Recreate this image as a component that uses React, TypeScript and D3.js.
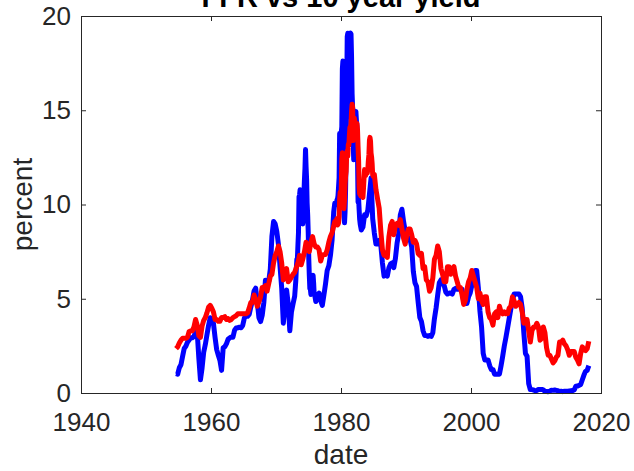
import React, { useEffect, useRef } from "react";
import * as d3 from "d3";

// Effective federal funds rate (percent)
// quarterly, 1954 Q3 .. 1972 Q4
const ffr1954 = [
  1.03, 1.0,
  1.34, 1.5, 1.94, 2.36,
  2.48, 2.69, 2.81, 2.93,
  2.93, 3.0, 3.23, 3.25,
  1.86, 0.7, 1.32, 2.16,
  2.57, 3.08, 3.58, 3.99,
  3.93, 3.7, 2.94, 2.3,
  2.0, 1.73, 1.2, 2.4,
  2.46, 2.61, 2.85, 2.92,
  2.97, 2.96, 3.33, 3.45,
  3.46, 3.49, 3.46, 3.58,
  3.97, 4.08, 4.07, 4.17,
  4.56, 4.91, 5.41, 5.56,
  4.82, 3.99, 3.79, 4.12,
  4.79, 5.98, 5.94, 5.92,
  6.57, 8.33, 9.1, 8.97,
  8.57, 7.88, 6.7, 5.57,
  3.7, 4.56, 5.47, 4.75,
  3.3, 4.3, 4.74, 5.14,
];
// monthly, 1973 .. 1975
const ffr1973 = [
  5.94, 6.58, 7.09, 7.12, 7.84, 8.49, 10.4, 10.5, 10.78, 10.01, 10.03, 9.95,
  9.65, 8.97, 9.35, 10.51, 11.31, 11.93, 12.92, 12.01, 11.34, 10.06, 9.45, 8.53,
  7.13, 6.24, 5.54, 5.49, 5.22, 5.55, 6.1, 6.14, 6.24, 5.82, 5.22, 5.2,
];
// quarterly, 1976 .. 1978
const ffr1976 = [
  4.85, 5.2, 5.3, 4.9,
  4.65, 5.2, 5.8, 6.5,
  6.75, 7.3, 8.1, 9.6,
];
// monthly, 1979 .. 1982
const ffr1979 = [
  10.07, 10.06, 10.09, 10.01, 10.24, 10.29, 10.47, 10.94, 11.43, 13.77, 13.18, 13.78,
  13.82, 14.13, 17.19, 17.61, 10.98, 9.47, 9.03, 9.61, 10.87, 12.81, 15.85, 18.9,
  19.08, 15.93, 14.7, 15.72, 18.52, 19.1, 19.04, 17.82, 15.87, 15.08, 13.31, 12.37,
  13.22, 14.78, 14.68, 14.94, 14.45, 14.15, 12.59, 10.12, 10.31, 9.71, 9.2, 8.95,
];
// quarterly, 1983 .. 2018 Q1
const ffr1983 = [
  8.65, 8.8, 9.45, 9.4,
  9.7, 10.55, 11.4, 9.25,
  8.5, 7.9, 7.9, 8.1,
  7.85, 6.9, 6.2, 6.3,
  6.2, 6.65, 6.85, 6.9,
  6.65, 7.15, 7.95, 8.45,
  9.45, 9.75, 9.1, 8.6,
  8.25, 8.25, 8.15, 7.75,
  6.45, 5.85, 5.65, 4.8,
  4.0, 3.8, 3.3, 3.05,
  3.05, 3.0, 3.05, 3.0,
  3.2, 3.95, 4.5, 5.2,
  5.85, 6.0, 5.8, 5.7,
  5.35, 5.25, 5.3, 5.3,
  5.25, 5.5, 5.55, 5.5,
  5.5, 5.5, 5.5, 4.85,
  4.75, 4.75, 5.1, 5.3,
  5.7, 6.3, 6.5, 6.5,
  5.6, 4.35, 3.5, 2.1,
  1.75, 1.75, 1.75, 1.45,
  1.25, 1.25, 1.0, 1.0,
  1.0, 1.0, 1.45, 1.95,
  2.5, 2.95, 3.45, 3.95,
  4.45, 4.9, 5.25, 5.25,
  5.25, 5.25, 5.1, 4.5,
  3.2, 2.1, 1.95, 0.5,
  0.18, 0.18, 0.16, 0.12,
  0.13, 0.19, 0.19, 0.19,
  0.16, 0.09, 0.08, 0.07,
  0.1, 0.15, 0.14, 0.16,
  0.14, 0.12, 0.08, 0.09,
  0.07, 0.09, 0.09, 0.1,
  0.11, 0.12, 0.13, 0.16,
  0.36, 0.37, 0.4, 0.45,
  0.7, 0.95, 1.15, 1.2,
  1.45,
];

// 10 year treasury yield (percent)
// quarterly, 1954 Q3 .. 1978 Q4
const gs1954 = [
  2.35, 2.45,
  2.65, 2.8, 2.9, 2.9,
  2.9, 2.95, 3.25, 3.3,
  3.3, 3.5, 3.9, 3.6,
  3.05, 2.95, 3.55, 3.85,
  4.0, 4.25, 4.55, 4.65,
  4.5, 4.3, 3.9, 3.9,
  3.8, 3.8, 4.0, 4.0,
  4.05, 3.9, 3.95, 3.85,
  3.9, 4.0, 4.05, 4.1,
  4.2, 4.2, 4.2, 4.2,
  4.2, 4.2, 4.25, 4.5,
  4.8, 4.8, 5.2, 4.95,
  4.6, 4.85, 5.1, 5.6,
  5.6, 5.7, 5.4, 5.8,
  6.2, 6.3, 6.9, 7.3,
  7.5, 7.8, 7.5, 6.9,
  6.0, 6.3, 6.6, 5.9,
  6.0, 6.15, 6.3, 6.4,
  6.65, 6.9, 7.3, 6.8,
  7.1, 7.5, 8.0, 7.6,
  7.5, 8.0, 8.3, 7.9,
  7.75, 7.75, 7.6, 7.0,
  7.3, 7.35, 7.35, 7.6,
  8.0, 8.3, 8.5, 8.85,
];
// monthly, 1979 .. 1984
const gs1979 = [
  9.1, 9.1, 9.12, 9.18, 9.25, 8.91, 8.95, 9.03, 9.33, 10.3, 10.65, 10.39,
  10.8, 12.41, 12.75, 11.47, 10.18, 9.78, 10.25, 11.1, 11.51, 11.75, 12.68, 12.84,
  12.57, 13.19, 13.12, 13.68, 14.1, 13.47, 14.28, 14.94, 15.32, 15.15, 13.39, 13.72,
  14.59, 14.43, 13.86, 13.87, 13.62, 14.3, 13.95, 13.06, 12.34, 10.91, 10.55, 10.54,
  10.46, 10.72, 10.51, 10.4, 10.38, 10.85, 11.38, 11.85, 11.65, 11.54, 11.69, 11.83,
  11.67, 11.84, 12.32, 12.63, 13.41, 13.56, 13.36, 12.72, 12.52, 12.16, 11.57, 11.5,
];
// quarterly, 1985 .. 2018 Q1
const gs1985 = [
  11.6, 10.8, 10.3, 9.8,
  8.6, 7.6, 7.3, 7.3,
  7.2, 8.3, 8.9, 9.1,
  8.4, 8.9, 9.0, 8.9,
  9.2, 8.7, 8.2, 7.9,
  8.4, 8.7, 8.7, 8.4,
  8.0, 8.1, 7.9, 7.4,
  7.3, 7.4, 6.6, 6.7,
  6.0, 5.9, 5.4, 5.6,
  6.1, 7.1, 7.3, 7.8,
  7.5, 6.6, 6.3, 5.9,
  5.9, 6.7, 6.7, 6.3,
  6.6, 6.7, 6.2, 5.9,
  5.6, 5.6, 5.2, 4.7,
  4.9, 5.5, 5.9, 6.1,
  6.5, 6.2, 5.9, 5.6,
  5.0, 5.3, 4.9, 4.7,
  5.1, 5.1, 4.3, 4.0,
  3.9, 3.6, 4.2, 4.3,
  4.0, 4.6, 4.3, 4.2,
  4.3, 4.2, 4.2, 4.5,
  4.6, 5.1, 4.9, 4.6,
  4.7, 4.8, 4.7, 4.3,
  3.7, 3.9, 3.9, 3.3,
  2.7, 3.3, 3.5, 3.5,
  3.7, 3.5, 2.8, 2.9,
  3.5, 3.2, 2.4, 2.0,
  2.0, 1.8, 1.6, 1.7,
  1.9, 2.0, 2.7, 2.7,
  2.8, 2.6, 2.5, 2.3,
  2.0, 2.2, 2.2, 2.2,
  1.9, 1.75, 1.55, 2.1,
  2.45, 2.3, 2.25, 2.35,
  2.75,
];

const xTicks = [1940, 1960, 1980, 2000, 2020];
const yTicks = [0, 5, 10, 15, 20];

type Pt = { date: number; value: number };

// attach dates to a run of values sampled every `step` years from `start`
function run(start: number, step: number, values: number[]): Pt[] {
  return values.map((v, i) => ({ date: start + i * step + step / 2, value: v }));
}

const ffrSeries: Pt[] = [
  ...run(1954.5, 0.25, ffr1954),
  ...run(1973, 1 / 12, ffr1973),
  ...run(1976, 0.25, ffr1976),
  ...run(1979, 1 / 12, ffr1979),
  ...run(1983, 0.25, ffr1983),
];
const gsSeries: Pt[] = [
  ...run(1954.5, 0.25, gs1954),
  ...run(1979, 1 / 12, gs1979),
  ...run(1985, 0.25, gs1985),
];

const W = 634;
const H = 471;
const font = "'Liberation Sans', Arial, Helvetica, sans-serif";

export default function App() {
  const svgRef = useRef<SVGSVGElement>(null);

  useEffect(() => {
    const svg = d3.select(svgRef.current);
    svg.selectAll("*").remove();

    const left = 81, right = 601, top = 16, bottom = 393;
    const x = d3.scaleLinear().domain([1940, 2020]).range([left, right]);
    const y = d3.scaleLinear().domain([0, 20]).range([bottom, top]);
    const axisColor = "#262626";

    // lines
    const line = d3
      .line<Pt>()
      .x((d) => x(d.date))
      .y((d) => y(d.value));

    svg.append("path")
      .datum(ffrSeries)
      .attr("d", line)
      .attr("fill", "none")
      .attr("stroke", "#0000ff")
      .attr("stroke-width", 5)
      .attr("stroke-linejoin", "round");

    svg.append("path")
      .datum(gsSeries)
      .attr("d", line)
      .attr("fill", "none")
      .attr("stroke", "#ff0000")
      .attr("stroke-width", 5)
      .attr("stroke-linejoin", "round");

    // axes, ticks inside like matlab
    const styleAxis = (g: any) => {
      g.select(".domain").remove();
      g.selectAll("line").attr("stroke", axisColor);
      g.selectAll("text")
        .attr("fill", axisColor)
        .style("font-family", font)
        .style("font-size", "26px");
    };

    svg.append("g")
      .attr("transform", `translate(0,${bottom})`)
      .call(d3.axisBottom(x).tickValues(xTicks).tickFormat(d3.format("d")).tickSizeInner(-5).tickSizeOuter(0).tickPadding(20))
      .call(styleAxis);
    svg.append("g")
      .attr("transform", `translate(0,${top})`)
      .call(d3.axisTop(x).tickValues(xTicks).tickFormat(() => "").tickSizeInner(-5).tickSizeOuter(0))
      .call(styleAxis);
    svg.append("g")
      .attr("transform", `translate(${left},0)`)
      .call(d3.axisLeft(y).tickValues(yTicks).tickFormat(d3.format("d")).tickSizeInner(-5).tickSizeOuter(0).tickPadding(10))
      .call(styleAxis);
    svg.append("g")
      .attr("transform", `translate(${right},0)`)
      .call(d3.axisRight(y).tickValues(yTicks).tickFormat(() => "").tickSizeInner(-5).tickSizeOuter(0))
      .call(styleAxis);

    svg.append("rect")
      .attr("x", left + 0.5)
      .attr("y", top + 0.5)
      .attr("width", right - left)
      .attr("height", bottom - top)
      .attr("fill", "none")
      .attr("stroke", axisColor)
      .attr("stroke-width", 1);

    // labels (title sits partly above the page, as in the original)
    svg.append("text")
      .attr("x", (left + right) / 2)
      .attr("y", 7)
      .attr("text-anchor", "middle")
      .style("font-family", font)
      .style("font-size", "29px")
      .style("font-weight", "bold")
      .attr("fill", "#000")
      .text("FFR vs 10 year yield");

    svg.append("text")
      .attr("x", (left + right) / 2)
      .attr("y", 464)
      .attr("text-anchor", "middle")
      .style("font-family", font)
      .style("font-size", "28px")
      .attr("fill", axisColor)
      .text("date");

    svg.append("text")
      .attr("transform", `translate(32,${(top + bottom) / 2}) rotate(-90)`)
      .attr("text-anchor", "middle")
      .style("font-family", font)
      .style("font-size", "28px")
      .attr("fill", axisColor)
      .text("percent");
  }, []);

  return (
    <svg
      ref={svgRef}
      width={W}
      height={H}
      style={{ position: "absolute", left: 0, top: 0, background: "#fff" }}
    />
  );
}
